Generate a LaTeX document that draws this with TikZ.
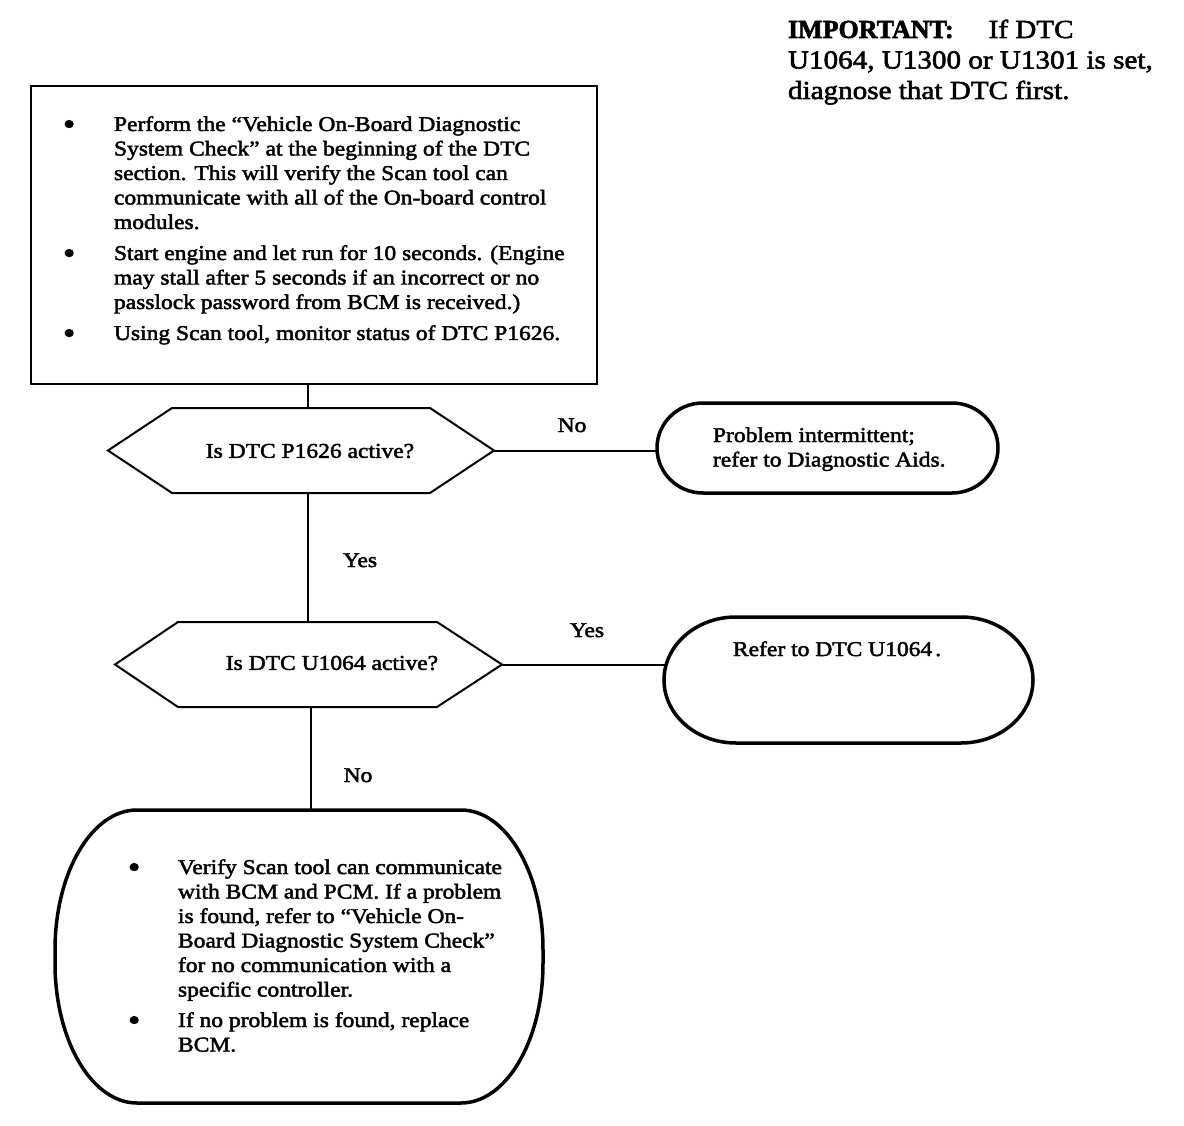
\documentclass[tikz,border=0pt]{standalone}
\usepackage{fontspec}
\usepackage{graphicx}
\setmainfont{Liberation Serif}[FakeStretch=1.12,FakeBold=2.2]
\newfontfamily\impfont{Liberation Serif}[FakeBold=2.2]
\newcommand{\bodyfont}{\fontsize{21}{24.5}\selectfont}
\newcommand{\impsize}{\fontsize{26}{30.5}\selectfont}
\newcommand{\bitem}[1]{\makebox[#1][l]{\raisebox{-3.5pt}{\scalebox{1.5}{\textbullet}}}}
\newcommand{\bcont}[1]{\hspace*{#1}}
\begin{document}
\begin{tikzpicture}[x=1pt,y=-1pt,
  conn/.style={line width=2pt},
  boxline/.style={line width=2pt},
  hexline/.style={line width=2pt},
  termline/.style={line width=3.5pt},
  frame/.style={draw=none,inner sep=0pt,outer sep=0pt},
  txt/.style={inner sep=0pt,outer sep=0pt,font=\bodyfont},
  lbl/.style={inner sep=0pt,outer sep=0pt,font=\bodyfont,anchor=base}]
\useasboundingbox (0,0) rectangle (1184,1126);

% --- shape frames
\node[frame,minimum width=566pt,minimum height=298pt] (rect) at (314,235) {};
\node[frame,minimum width=386pt,minimum height=85pt] (hex1) at (301,450.5) {};
\node[frame,minimum width=387pt,minimum height=85pt] (hex2) at (308.5,664.5) {};
\node[frame,minimum width=341pt,minimum height=90pt] (term1) at (827.5,448) {};
\node[frame,minimum width=369pt,minimum height=126pt] (term2) at (848.5,680) {};
\node[frame,minimum width=488pt,minimum height=293pt] (term3) at (299,956.5) {};

% --- outlines
\draw[boxline] (rect.north west) rectangle (rect.south east);
\draw[hexline] (hex1.west) -- ([xshift=64pt]hex1.north west) -- ([xshift=-64pt]hex1.north east)
  -- (hex1.east) -- ([xshift=-64pt]hex1.south east) -- ([xshift=64pt]hex1.south west) -- cycle;
\draw[hexline] (hex2.west) -- ([xshift=63pt]hex2.north west) -- ([xshift=-65pt]hex2.north east)
  -- (hex2.east) -- ([xshift=-65pt]hex2.south east) -- ([xshift=63pt]hex2.south west) -- cycle;
\newcommand{\stadium}[3]{%
  \draw[termline] ([xshift=#2pt]#1.north west) -- ([xshift=-#2pt]#1.north east)
    arc[start angle=90,end angle=0,x radius=#2pt,y radius=#3pt]
    -- ([yshift=#3pt]#1.south east)
    arc[start angle=0,end angle=-90,x radius=#2pt,y radius=#3pt]
    -- ([xshift=#2pt]#1.south west)
    arc[start angle=-90,end angle=-180,x radius=#2pt,y radius=#3pt]
    -- ([yshift=-#3pt]#1.north west)
    arc[start angle=180,end angle=90,x radius=#2pt,y radius=#3pt] -- cycle;}
\stadium{term1}{46}{45}
\stadium{term2}{72}{63}
\stadium{term3}{82}{140}

% --- texts
\node[inner sep=0pt,outer sep=0pt,anchor=base west,font=\impsize] (imp) at (788,38)
 {\begin{tabular}[t]{@{}l@{}}
  {\impfont\bfseries IMPORTANT:}\hspace{35pt}If DTC\\
  U1064, U1300 or U1301 is set,\\
  diagnose that DTC first.
 \end{tabular}};

\node[txt,anchor=base west] (t1) at (63,131)
 {\begin{tabular}[t]{@{}l@{}}
  \bitem{51pt}Perform the “Vehicle On-Board Diagnostic\\
  \bcont{51pt}System Check” at the beginning of the DTC\\
  \bcont{51pt}section. This will verify the Scan tool can\\
  \bcont{51pt}communicate with all of the On-board control\\
  \bcont{51pt}modules.\\[6.5pt]
  \bitem{51pt}Start engine and let run for 10 seconds. (Engine\\
  \bcont{51pt}may stall after 5 seconds if an incorrect or no\\
  \bcont{51pt}passlock password from BCM is received.)\\[6.5pt]
  \bitem{51pt}Using Scan tool, monitor status of DTC P1626.
 \end{tabular}};

\node[txt] (q1) at (310,451) {Is DTC P1626 active?};
\node[txt] (q2) at (332,663) {Is DTC U1064 active?};

\node[txt,anchor=base west] (r1) at (713,442)
 {\begin{tabular}[t]{@{}l@{}}
  Problem intermittent;\\
  refer to Diagnostic Aids.
 \end{tabular}};
\node[txt,anchor=base west] (r2) at (733,656) {Refer to DTC U1064\kern3pt.};

\node[txt,anchor=base west] (t3) at (128,874)
 {\begin{tabular}[t]{@{}l@{}}
  \bitem{50pt}Verify Scan tool can communicate\\
  \bcont{50pt}with BCM and PCM. If a problem\\
  \bcont{50pt}is found, refer to “Vehicle On-\\
  \bcont{50pt}Board Diagnostic System Check”\\
  \bcont{50pt}for no communication with a\\
  \bcont{50pt}specific controller.\\[6pt]
  \bitem{50pt}If no problem is found, replace\\
  \bcont{50pt}BCM.
 \end{tabular}};

% --- labels
\node[lbl] (no1) at (572,432) {No};
\node[lbl] (yes1) at (360,567) {Yes};
\node[lbl] (yes2) at (587,637) {Yes};
\node[lbl] (no2) at (358,782) {No};

% --- connectors
\coordinate (sp1) at (308,0);
\coordinate (sp2) at (311,0);
\draw[conn] (rect.south -| sp1) -- (hex1.north -| sp1);
\draw[conn] (hex1.south -| sp1) -- (hex2.north -| sp1);
\draw[conn] (hex2.south -| sp2) -- (term3.north -| sp2);
\draw[conn] (hex1.east) -- (hex1.east -| term1.west);
\draw[conn] (hex2.east) -- ([xshift=3pt]hex2.east -| term2.west);
\end{tikzpicture}
\end{document}
